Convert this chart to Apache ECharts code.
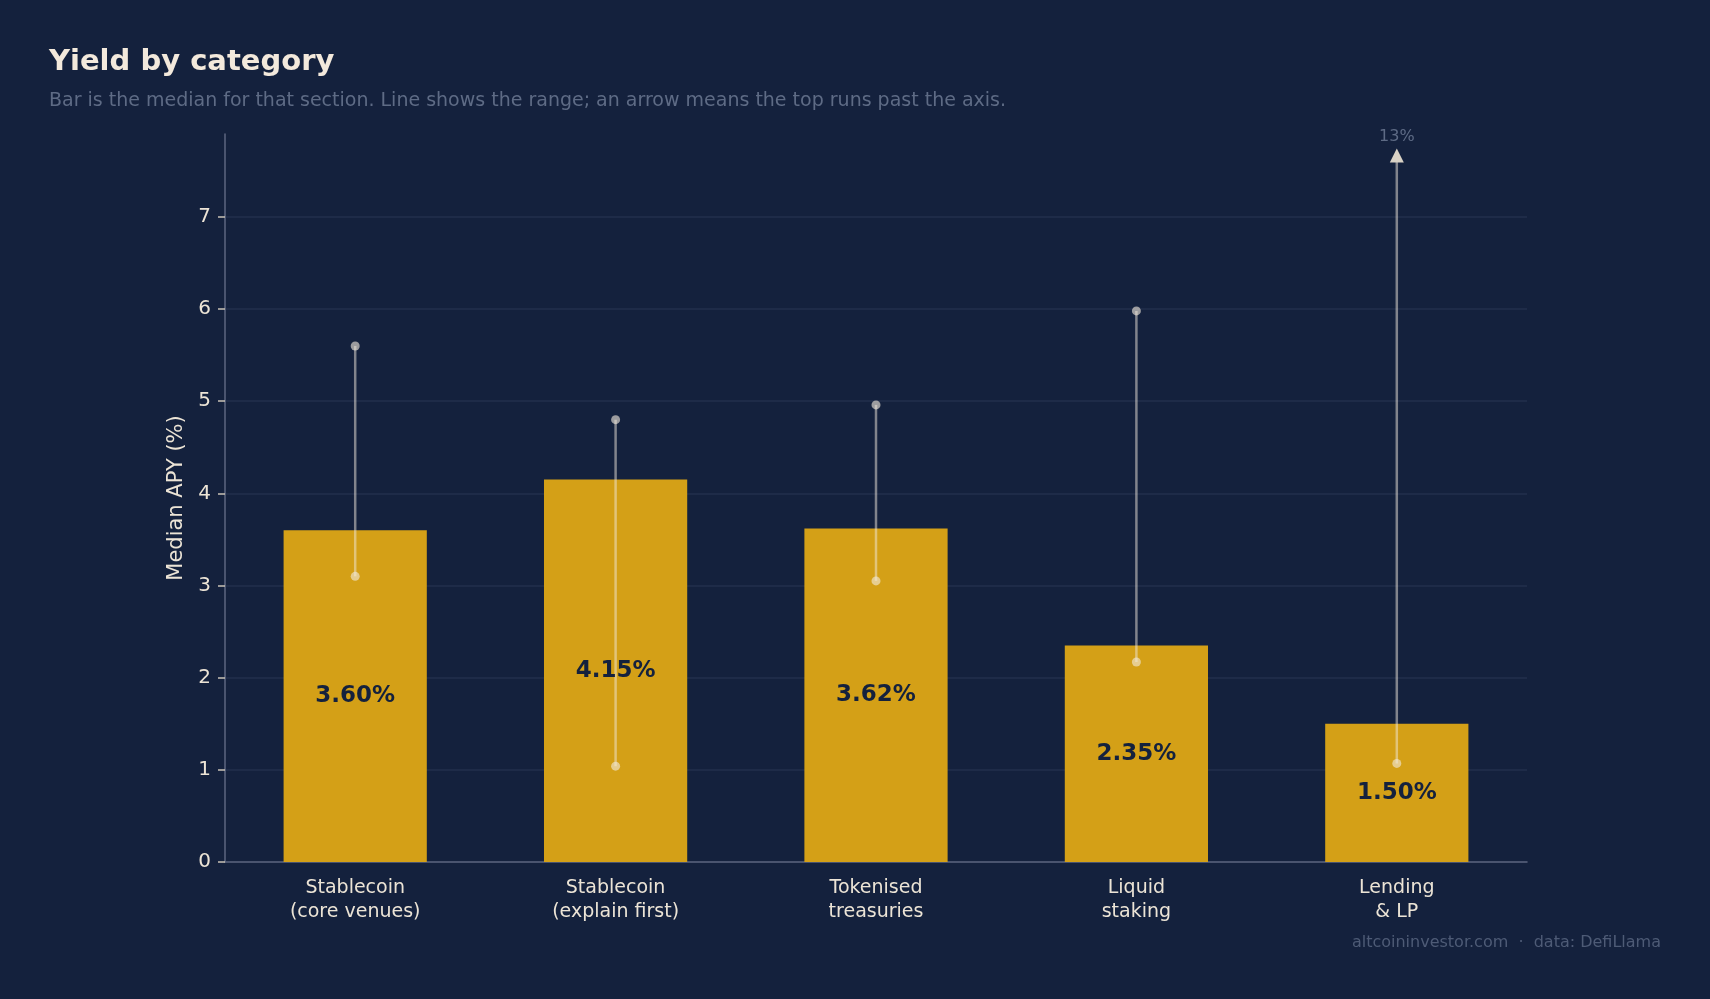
<!DOCTYPE html>
<html lang="en">
<head>
  <meta charset="UTF-8" />
  <title>Yield by category</title>
  <script src="https://cdn.jsdelivr.net/npm/echarts@6.0.0/dist/echarts.min.js"></script>
  <style>
    html, body { margin: 0; padding: 0; background: #14213d; }
  </style>
</head>

<body>
  <div id="main" style="width: 1710px; height: 999px;"></div>

  <script>
    // categories and values
    const categories = [
      "Stablecoin\n(core venues)",
      "Stablecoin\n(explain first)",
      "Tokenised\ntreasuries",
      "Liquid\nstaking",
      "Lending\n& LP",
    ];
    const medianApy = [3.60, 4.15, 3.62, 2.35, 1.50];
    const rangeLow = [3.10, 1.04, 3.05, 2.17, 1.07];
    const rangeHigh = [5.60, 4.80, 4.96, 5.98, 13];
    const yTicks = [0, 1, 2, 3, 4, 5, 6, 7];
    const yMax = 7.9;

    const font = "DejaVu Sans";
    const lineColor = "rgba(240, 232, 220, 0.5)";
    const dotColor = "rgba(240, 232, 220, 0.62)";

    const myChart = echarts.init(document.getElementById("main"));

    const option = {
      backgroundColor: "#14213d",
      animation: false,
      textStyle: { fontFamily: font },
      title: [
        {
          text: "Yield by category",
          left: 49,
          top: 48,
          padding: 0,
          textStyle: { color: "#f3e9dc", fontSize: 29, fontWeight: "bold", fontFamily: font },
        },
        {
          text: "Bar is the median for that section. Line shows the range; an arrow means the top runs past the axis.",
          left: 49,
          top: 92,
          padding: 0,
          textStyle: { color: "#5e6b85", fontSize: 19, fontWeight: "normal", fontFamily: font },
        },
        {
          text: "altcoininvestor.com  \u00b7  data: DefiLlama",
          right: 49,
          top: 935,
          padding: 0,
          textStyle: { color: "#4e5b76", fontSize: 16, fontWeight: "normal", fontFamily: font },
        },
      ],
      grid: { left: 225, right: 183, top: 134, bottom: 137 },
      xAxis: {
        type: "category",
        data: categories,
        axisLine: { lineStyle: { color: "#5c6680", width: 1.5 } },
        axisTick: { alignWithLabel: true, length: 7, lineStyle: { color: "#c9c2b6", width: 1.5 } },
        axisLabel: { color: "#ece4d6", fontSize: 19, lineHeight: 24, margin: 14, fontFamily: font },
      },
      yAxis: {
        type: "value",
        min: 0,
        max: yMax,
        interval: 1,
        name: "Median APY (%)",
        nameLocation: "middle",
        nameGap: 30,
        nameTextStyle: { color: "#ece4d6", fontSize: 21, fontFamily: font },
        axisLine: { show: true, lineStyle: { color: "#5c6680", width: 1.5 } },
        axisTick: { show: true, length: 7, customValues: yTicks, lineStyle: { color: "#c9c2b6", width: 1.5 } },
        axisLabel: { color: "#ece4d6", fontSize: 20, margin: 14, customValues: yTicks, fontFamily: font },
        splitLine: { show: true, showMinLine: false, lineStyle: { color: "#222f4c", width: 1.5 } },
      },
      series: [
        {
          type: "bar",
          data: medianApy,
          barWidth: "55%",
          itemStyle: { color: "#d4a017" },
          z: 2,
        },
        {
          // range line: low dot, high dot, or an arrow if the top is off the axis
          type: "custom",
          z: 3,
          clip: false,
          data: rangeLow.map((lo, i) => [i, lo, rangeHigh[i]]),
          encode: { x: 0, y: [1, 2] },
          renderItem: function (params, api) {
            const i = api.value(0);
            const lo = api.value(1);
            const hi = api.value(2);
            const over = hi > yMax;
            const pLo = api.coord([i, lo]);
            const pHi = api.coord([i, over ? yMax * 0.98 : hi]);
            const children = [];
            if (over) {
              children.push({
                type: "line",
                shape: { x1: pLo[0], y1: pLo[1], x2: pHi[0], y2: pHi[1] + 13 },
                style: { stroke: lineColor, lineWidth: 2.5 },
              });
              children.push({
                type: "polygon",
                shape: { points: [[pHi[0], pHi[1]], [pHi[0] - 7, pHi[1] + 14], [pHi[0] + 7, pHi[1] + 14]] },
                style: { fill: "#d9d2c6" },
              });
              children.push({
                type: "text",
                style: {
                  text: Math.round(hi) + "%",
                  x: pHi[0],
                  y: pHi[1] - 12,
                  align: "center",
                  verticalAlign: "middle",
                  fill: "#5e6b85",
                  font: "16px " + font,
                },
              });
            } else {
              children.push({
                type: "line",
                shape: { x1: pLo[0], y1: pLo[1], x2: pHi[0], y2: pHi[1] },
                style: { stroke: lineColor, lineWidth: 2.5 },
              });
              children.push({
                type: "circle",
                shape: { cx: pHi[0], cy: pHi[1], r: 4.5 },
                style: { fill: dotColor },
              });
            }
            children.push({
              type: "circle",
              shape: { cx: pLo[0], cy: pLo[1], r: 4.5 },
              style: { fill: dotColor },
            });
            return { type: "group", children: children };
          },
        },
        {
          // label layer so the value text sits above the range lines
          type: "bar",
          data: medianApy,
          barWidth: "55%",
          barGap: "-100%",
          itemStyle: { color: "rgba(0,0,0,0)" },
          label: {
            show: true,
            position: "inside",
            color: "#14213d",
            fontSize: 23,
            fontWeight: "bold",
            fontFamily: font,
            formatter: (p) => p.value.toFixed(2) + "%",
          },
          z: 4,
        },
      ],
    };

    myChart.setOption(option);
  </script>
</body>

</html>
